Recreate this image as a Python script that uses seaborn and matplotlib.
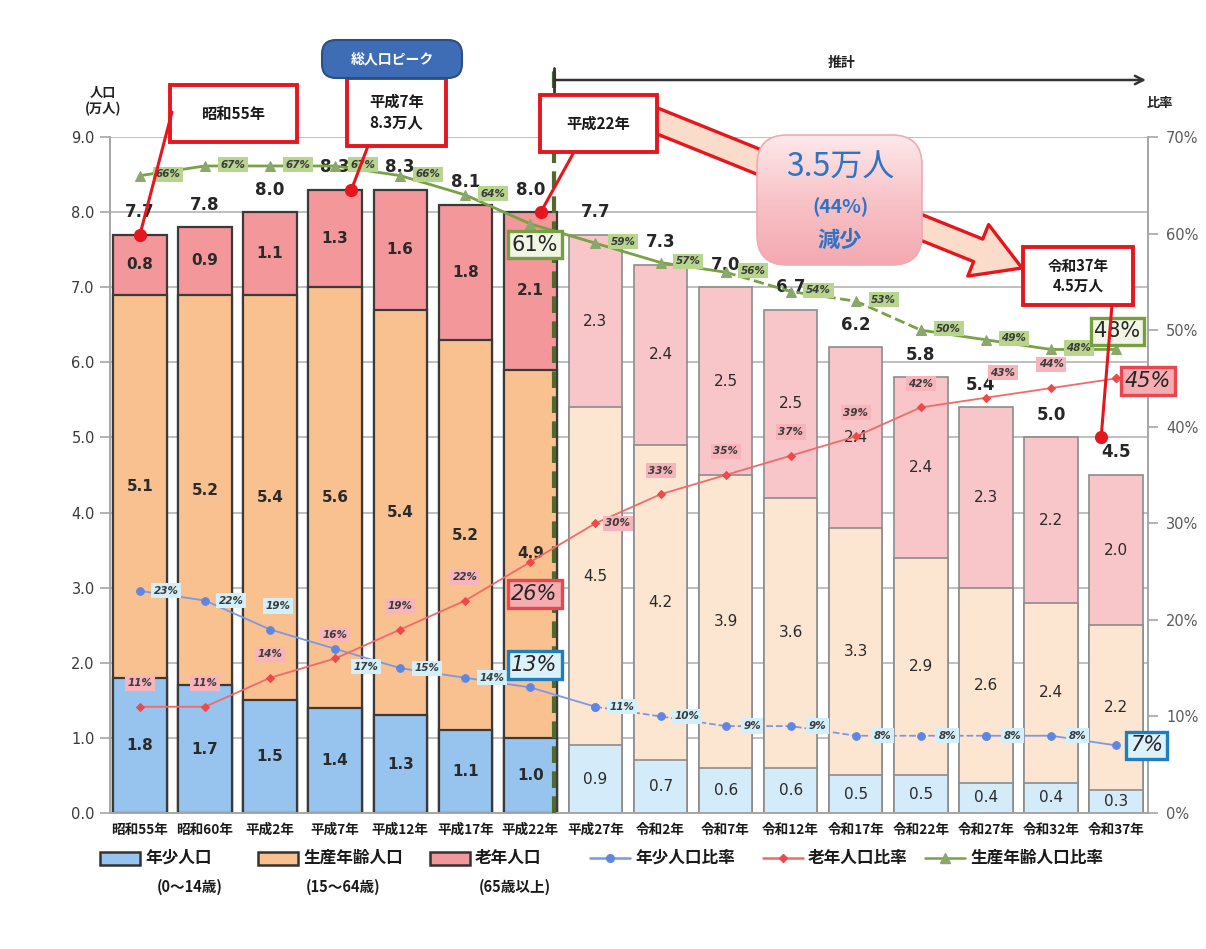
import numpy as np
import pandas as pd
import matplotlib
matplotlib.use("Agg")
import matplotlib.pyplot as plt
import seaborn as sns
from matplotlib.patches import Rectangle, FancyBboxPatch, FancyArrowPatch, ConnectionPatch
from matplotlib.lines import Line2D
from matplotlib.transforms import Affine2D
from matplotlib.colors import LinearSegmentedColormap

# ---- data -------------------------------------------------------------
years = ["昭和55年", "昭和60年", "平成2年", "平成7年", "平成12年", "平成17年", "平成22年",
         "平成27年", "令和2年", "令和7年", "令和12年", "令和17年", "令和22年", "令和27年",
         "令和32年", "令和37年"]
young_pop = [1.8, 1.7, 1.5, 1.4, 1.3, 1.1, 1.0, 0.9, 0.7, 0.6, 0.6, 0.5, 0.5, 0.4, 0.4, 0.3]
working_pop = [5.1, 5.2, 5.4, 5.6, 5.4, 5.2, 4.9, 4.5, 4.2, 3.9, 3.6, 3.3, 2.9, 2.6, 2.4, 2.2]
elderly_pop = [0.8, 0.9, 1.1, 1.3, 1.6, 1.8, 2.1, 2.3, 2.4, 2.5, 2.5, 2.4, 2.4, 2.3, 2.2, 2.0]
total_pop = [7.7, 7.8, 8.0, 8.3, 8.3, 8.1, 8.0, 7.7, 7.3, 7.0, 6.7, 6.2, 5.8, 5.4, 5.0, 4.5]
young_ratio = [23, 22, 19, 17, 15, 14, 13, 11, 10, 9, 9, 8, 8, 8, 8, 7]
elderly_ratio = [11, 11, 14, 16, 19, 22, 26, 30, 33, 35, 37, 39, 42, 43, 44, 45]
working_ratio = [66, 67, 67, 67, 66, 64, 61, 59, 57, 56, 54, 53, 50, 49, 48, 48]
n_actual = 7          # 平成22年までが実績値、以降は推計値
peak_total = 8.3
decrease_label = "3.5万人"
decrease_pct = "(44%)"

# ---- style ------------------------------------------------------------
sns.set_theme(style="white")
plt.rcParams["font.family"] = ["Noto Sans CJK JP", "DejaVu Sans"]
NUM = ["DejaVu Sans"]

W, H = 1206, 949
fig = plt.figure(figsize=(W / 100, H / 100), dpi=100)
fig.patch.set_facecolor("white")
# transform in pixel units measured from the top-left corner
T = Affine2D().scale(1 / W, -1 / H).translate(0, 1) + fig.transFigure

ax = fig.add_axes([110 / W, 1 - 813 / H, (1148 - 110) / W, (813 - 137) / H])

n = len(years)
idx = np.arange(n)
is_actual = idx < n_actual
c_young = np.where(is_actual, "#97C4EE", "#D4EBF9")
c_work = np.where(is_actual, "#F9C18F", "#FDE6D1")
c_old = np.where(is_actual, "#F3979B", "#F8C6C9")

df = pd.DataFrame({
    "year": years,
    "young": young_pop,
    "young_work": np.add(young_pop, working_pop),
    "total": total_pop,
})

# stacked bars drawn as layered cumulative bars
for col, cols in [("total", c_old), ("young_work", c_work), ("young", c_young)]:
    sns.barplot(data=df, x="year", y=col, hue="year",
                palette=dict(zip(years, cols)), legend=False, width=0.82,
                errorbar=None, saturation=1, ax=ax)

for p in ax.patches:
    cx = p.get_x() + p.get_width() / 2
    if cx < n_actual - 0.5:
        p.set_edgecolor("#3a3a3a")
        p.set_linewidth(1.6)
    else:
        p.set_edgecolor("#8c8c8c")
        p.set_linewidth(1.2)

# segment labels and totals
for i in idx:
    w = "bold" if is_actual[i] else "normal"
    yv, wv = young_pop[i], working_pop[i]
    top = total_pop[i]
    for val, ypos in [(yv, yv / 2), (wv, yv + wv / 2), (elderly_pop[i], (yv + wv + top) / 2)]:
        ax.text(i, ypos, f"{val:.1f}", ha="center", va="center", fontsize=11,
                color="#2a2a2a", weight=w, family=NUM)
    ax.text(i - (0.08 if i == 13 else 0), top + 0.3, f"{top:.1f}", ha="center",
            va="center", fontsize=12, weight="bold", color="#262626", family=NUM)

ax.set_xlim(-0.46, 15.49)
ax.set_ylim(0, 9)
ax.set_xlabel("")
ax.set_ylabel("")
ax.set_yticks(np.arange(0, 9.01, 1.0))
ax.set_yticklabels([f"{v:.1f}" for v in np.arange(0, 9.01, 1.0)], family=NUM)
ax.tick_params(axis="y", length=7, width=1.2, color="#a6a6a6", labelsize=10.5,
               labelcolor="#3a3a3a", pad=4)
ax.set_xticks(idx)
ax.set_xticklabels(years, fontsize=9.8, weight="bold")
ax.tick_params(axis="x", length=0, pad=7, labelcolor="#1a1a1a")
ax.set_xticks(np.arange(-0.5, n, 1.0), minor=True)
ax.tick_params(axis="x", which="minor", length=5, color="#a6a6a6", width=1.2)
ax.grid(axis="y", color="#bfbfbf", lw=1.4)
ax.set_axisbelow(True)
for s in ["top", "right"]:
    ax.spines[s].set_visible(False)
for s in ["left", "bottom"]:
    ax.spines[s].set_color("#a6a6a6")
    ax.spines[s].set_linewidth(1.4)

# ---- ratio lines on the secondary axis --------------------------------
ax2 = ax.twinx()
ax2.set_ylim(0, 70)
ax2.set_yticks(np.arange(0, 71, 10))
ax2.set_yticklabels([f"{v}%" for v in range(0, 71, 10)], family=NUM)
ax2.tick_params(axis="y", length=7, width=1.2, color="#a6a6a6", labelsize=10.5,
                labelcolor="#5a5a5a", pad=6)
for s in ["top", "left", "bottom"]:
    ax2.spines[s].set_visible(False)
ax2.spines["right"].set_color("#a6a6a6")
ax2.spines["right"].set_linewidth(1.4)
ax2.grid(False)


def ratio_line(vals, color, marker, ms, lw, dashed, mcolor):
    lo, hi = dashed
    parts = [(0, lo + 1, "-"), (lo, hi + 1, "--"), (hi, n, "-")]
    for a, b, ls in parts:
        sns.lineplot(x=idx[a:b], y=vals[a:b], ax=ax2, color=color, lw=lw,
                     linestyle=ls, marker=marker, markersize=ms,
                     markerfacecolor=mcolor, markeredgecolor=mcolor, legend=False)


ratio_line(working_ratio, "#78a244", "^", 6.5, 2.0, (9, 12), "#8aa86c")
ratio_line(young_ratio, "#7b98e6", "o", 5.5, 1.3, (7, 13), "#5f86e3")
ratio_line(elderly_ratio, "#f06a6a", "D", 4.2, 1.3, (15, 15), "#ee4a4a")
ax2.set_ylim(0, 70)
ax2.set_xlabel("")
ax2.set_ylabel("")


def small_label(i, v, fc, off):
    ax2.annotate(f"{v}%", xy=(i, v), xytext=off, textcoords="offset points",
                 ha="center", va="center", fontsize=7.5, style="italic", weight="bold",
                 color="#3a3a3a", family=NUM, zorder=5,
                 bbox=dict(boxstyle="square,pad=0.25", fc=fc, ec="none"))


young_off = {2: (6, 17), 3: (22, -13)}
elderly_off = {n_actual: (16, 0), 13: (12, 18)}
for i in idx:
    if i in (n_actual - 1, n - 1):
        continue
    small_label(i, working_ratio[i], "#b8d58e", (20, 1))
    small_label(i, young_ratio[i], "#d3effa", young_off.get(i, (19, 0)))
    small_label(i, elderly_ratio[i], "#f7b4bb", elderly_off.get(i, (0, 17)))


def big_label(i, v, off, fc, ec, italic):
    ax2.annotate(f"{v}%", xy=(i, v), xytext=off, textcoords="offset points",
                 ha="center", va="center", fontsize=15,
                 style="italic" if italic else "normal", color="#262626",
                 family=NUM, zorder=8, annotation_clip=False,
                 bbox=dict(boxstyle="square,pad=0.18", fc=fc, ec=ec, lw=2.4))


last = n - 1
mid = n_actual - 1
big_label(mid, working_ratio[mid], (3, -15), "#f1f5e6", "#76a040", False)
big_label(mid, elderly_ratio[mid], (3, -23), "#f6acb0", "#e8474f", True)
big_label(mid, young_ratio[mid], (3, 16), "#dcf2fb", "#1f7dc0", True)
big_label(last, working_ratio[last], (1, 13), "#f1f5e6", "#76a040", False)
big_label(last, elderly_ratio[last], (23, -2), "#f6acb0", "#e8474f", True)
big_label(last, young_ratio[last], (22, 0), "#dcf2fb", "#1f7dc0", True)

ax.set_xlim(-0.46, 15.49)

# ---- projection marker ------------------------------------------------
split_x = n_actual - 0.63
ax.plot([split_x, split_x], [0, 9.88], clip_on=False, color="#4f6a2a", lw=3,
        linestyle=(0, (4, 2)), zorder=4)
fig.add_artist(Line2D([554, 554], [68, 92], transform=T, color="#333333", lw=2))
fig.add_artist(FancyArrowPatch((554, 80), (1146, 80), transform=T,
                               arrowstyle="->,head_length=6,head_width=3",
                               color="#333333", lw=1.8, shrinkA=0, shrinkB=0))
fig.text(842, 63, "推計", transform=T, ha="center", va="center", fontsize=10,
         weight="bold", color="#222222")

# axis titles
fig.text(103, 101, "人口\n(万人)", transform=T, ha="center", va="center",
         fontsize=9.5, weight="bold", color="#222222", linespacing=1.15)
fig.text(1160, 103, "比率", transform=T, ha="center", va="center", fontsize=9.5,
         weight="bold", color="#222222")

# ---- callouts ---------------------------------------------------------
RED = "#e5161d"


def red_box(x, y, w, h, text, fs):
    fig.add_artist(Rectangle((x, y), w, h, transform=T, fc="white", ec=RED, lw=2.8, zorder=6))
    fig.text(x + w / 2, y + h / 2, text, transform=T, ha="center", va="center",
             fontsize=fs, weight="bold", color="#1a1a1a", zorder=7, linespacing=1.3)


def leader(px, py, xd, yd):
    fig.add_artist(ConnectionPatch((px, py), (xd, yd), coordsA=T, coordsB=ax.transData,
                                   color=RED, lw=2.2, zorder=9))
    fig.add_artist(Line2D([xd], [yd], transform=ax.transData, ls="", marker="o",
                          ms=8.5, color=RED, zorder=10))


# big arrow from 平成22年 to 令和37年
fig.add_artist(FancyArrowPatch((650, 118), (1022, 268), transform=T,
                               arrowstyle="simple,head_length=3.4,head_width=4.0,tail_width=1.75",
                               mutation_scale=10, fc="#fbdccb", ec=RED, lw=2.4,
                               shrinkA=0, shrinkB=0, zorder=5))

red_box(170, 85, 127, 57, "昭和55年", 11)
leader(172, 112, 0, total_pop[0])
red_box(347, 78, 99, 68, f"平成7年\n{peak_total}万人", 11)
leader(368, 146, 3.25, peak_total)
red_box(540, 95, 117, 57, "平成22年", 11)
leader(574, 152, 6.16, total_pop[6])
red_box(1023, 247, 110, 58, f"令和37年\n{total_pop[-1]}万人", 10.5)
leader(1112, 305, 14.77, total_pop[-2])

# 総人口ピーク tag
fig.add_artist(FancyBboxPatch((322, 40), 140, 38, boxstyle="round,pad=0,rounding_size=14",
                              transform=T, fc="#3e6db5", ec="#2b4e85", lw=1.5, zorder=6))
fig.text(392, 59, "総人口ピーク", transform=T, ha="center", va="center", fontsize=10,
         weight="bold", color="white", zorder=7)

# decrease bubble with a soft vertical gradient
bx, by, bw, bh = 757, 135, 165, 130
gax = fig.add_axes([bx / W, 1 - (by + bh) / H, bw / W, bh / H])
gax.set_zorder(6)
gax.axis("off")
grad = np.linspace(0, 1, 128).reshape(-1, 1)
cmap = LinearSegmentedColormap.from_list("bubble", ["#fde9eb", "#f8c3c8", "#f4a9b0"])
im = gax.imshow(grad, cmap=cmap, extent=[0, 1, 0, 1], aspect="auto", origin="upper")
bubble = FancyBboxPatch((bx, by), bw, bh, boxstyle="round,pad=0,rounding_size=30",
                        transform=T, fc="none", ec="#f2b3b8", lw=1.2)
im.set_clip_path(bubble)
fig.add_artist(FancyBboxPatch((bx, by), bw, bh, boxstyle="round,pad=0,rounding_size=30",
                              transform=T, fc="none", ec="#f0aab0", lw=1.2, zorder=7))
BLUE = "#2e74c6"
fig.text(840, 168, decrease_label, transform=T, ha="center", va="center", fontsize=23,
         color=BLUE, zorder=8)
fig.text(840, 207, decrease_pct, transform=T, ha="center", va="center", fontsize=14,
         weight="bold", color=BLUE, zorder=8)
fig.text(840, 240, "減少", transform=T, ha="center", va="center", fontsize=16,
         weight="bold", color=BLUE, zorder=8)

# ---- legend -------------------------------------------------------------
leg_y = 858
bar_items = [(100, c_young[0], "年少人口", "(0〜14歳)", 190),
             (258, c_work[0], "生産年齢人口", "(15〜64歳)", 343),
             (430, c_old[0], "老年人口", "(65歳以上)", 515)]
for x0, col, lab, sub, sx in bar_items:
    fig.add_artist(Rectangle((x0, leg_y - 6), 40, 13, transform=T, fc=col, ec="#333333", lw=1.8))
    fig.text(x0 + 45, leg_y, lab, transform=T, ha="left", va="center", fontsize=12,
             weight="bold", color="#1a1a1a")
    fig.text(sx, leg_y + 29, sub, transform=T, ha="center", va="center", fontsize=10.5,
             weight="bold", color="#1a1a1a")

line_items = [(590, "#7b98e6", "o", 5.5, "#5f86e3", "年少人口比率"),
              (763, "#f06a6a", "D", 4.5, "#ee4a4a", "老年人口比率"),
              (925, "#78a244", "^", 6.5, "#8aa86c", "生産年齢人口比率")]
for x0, col, mk, ms, mc, lab in line_items:
    fig.add_artist(Line2D([x0, x0 + 40], [leg_y, leg_y], transform=T, color=col, lw=1.8))
    fig.add_artist(Line2D([x0 + 20], [leg_y], transform=T, ls="", marker=mk, ms=ms,
                          color=mc))
    fig.text(x0 + 45, leg_y, lab, transform=T, ha="left", va="center", fontsize=12,
             weight="bold", color="#1a1a1a")

fig.savefig("out.png", dpi=100, facecolor="white")
